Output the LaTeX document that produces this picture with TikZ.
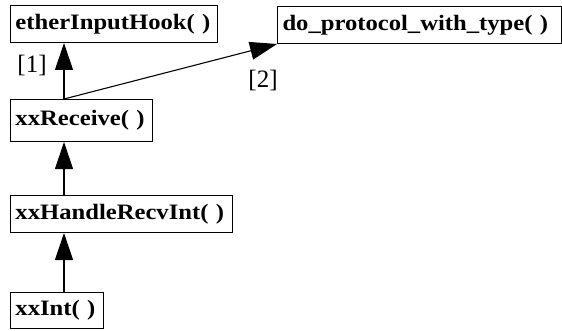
\documentclass[tikz,border=0pt]{standalone}
\usepackage{fontspec}
\setmainfont{Liberation Serif}
\newfontfamily\boxfont[FakeStretch=1.12]{Liberation Serif}
\usetikzlibrary{arrows.meta}
\begin{document}
\begin{tikzpicture}[x=1pt,y=1pt,
  fn/.style={draw,line width=1pt,anchor=north west,inner xsep=5pt,inner ysep=0pt,
    minimum height=37pt,align=left,font=\boxfont\fontsize{22}{22}\selectfont\bfseries},
  lbl/.style={font=\fontsize{25}{25}\selectfont},
  conn/.style={line width=1.1pt,-{Triangle[length=27pt,width=18pt]}}]
\useasboundingbox (0,0) rectangle (562,330);
\node[fn,text width=197pt] (eih) at (10,325) {etherInputHook( )};
\node[fn,text width=274pt] (dpt) at (277,324) {do\_protocol\_with\_type( )};
\node[fn,text width=132pt,minimum height=42pt] (rcv) at (10,231) {xxReceive( )};
\node[fn,text width=212pt] (hri) at (10,135) {xxHandleRecvInt( )};
\node[fn,text width=83pt,minimum height=36pt] (int) at (10,38) {xxInt( )};
\draw[conn] ([xshift=54pt]rcv.north west) -- ([xshift=54pt]eih.south west);
\draw[conn] ([xshift=54pt]rcv.north west) -- (dpt.south west);
\draw[conn] ([xshift=54pt]hri.north west) -- ([xshift=54pt]rcv.south west);
\draw[conn] ([xshift=54pt]int.north west) -- ([xshift=54pt]hri.south west);
\node[lbl] (l1) at (32,265) {[1]};
\node[lbl] (l2) at (263,250) {[2]};
\end{tikzpicture}
\end{document}
